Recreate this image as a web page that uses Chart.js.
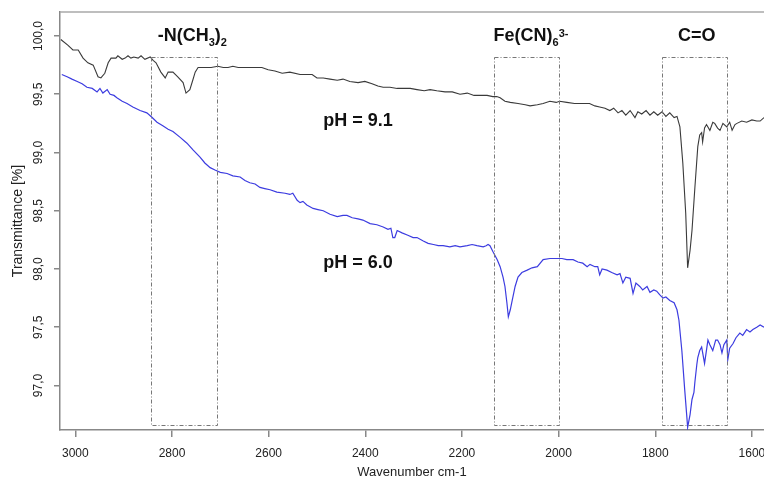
<!DOCTYPE html>
<html>
<head>
<meta charset="utf-8">
<title>IR spectra</title>
<script src="https://cdn.jsdelivr.net/npm/chart.js@4.4.1/dist/chart.umd.min.js"></script>
<style>
  html, body { margin: 0; padding: 0; background: #fff; overflow: hidden; }
  canvas { display: block; }
</style>
</head>
<body>
<canvas id="spectra" width="764" height="478"></canvas>
<script>
// pH 9.1 spectrum: wavenumber (cm-1) and transmittance (%)
const wnPH91 = [3030,3015,3005,2994,2984,2974,2963,2953,2947,2939,2932,2926,2916,2912,2903,2897,2891,2885,2879,2870,2864,2856,2845,2839,2833,2823,2814,2808,2798,2788,2777,2771,2763,2757,2752,2746,2740,2730,2719,2705,2694,2684,2674,2663,2653,2643,2626,2614,2601,2587,2572,2556,2535,2523,2510,2500,2487,2473,2458,2446,2432,2415,2401,2386,2374,2363,2349,2334,2322,2307,2293,2278,2266,2252,2235,2220,2204,2189,2175,2163,2148,2136,2128,2121,2111,2100,2084,2069,2059,2044,2032,2018,2005,1998,1983,1967,1950,1936,1925,1915,1904,1894,1886,1877,1869,1861,1852,1842,1836,1828,1819,1811,1803,1795,1786,1778,1770,1761,1755,1749,1743,1737,1733,1728,1724,1718,1712,1708,1704,1702,1698,1694,1687,1681,1677,1671,1666,1660,1652,1646,1641,1635,1631,1621,1611,1600,1590,1583,1575];
const tPH91 = [99.97,99.92,99.88,99.88,99.81,99.77,99.75,99.65,99.64,99.68,99.77,99.81,99.81,99.83,99.80,99.81,99.83,99.81,99.82,99.81,99.83,99.80,99.82,99.79,99.77,99.69,99.64,99.69,99.69,99.65,99.60,99.51,99.54,99.62,99.69,99.73,99.73,99.73,99.73,99.74,99.73,99.73,99.74,99.73,99.73,99.73,99.73,99.73,99.71,99.70,99.68,99.69,99.67,99.67,99.67,99.64,99.64,99.63,99.62,99.63,99.61,99.60,99.61,99.59,99.57,99.56,99.56,99.55,99.55,99.55,99.54,99.53,99.54,99.53,99.52,99.52,99.50,99.51,99.49,99.49,99.49,99.48,99.48,99.47,99.44,99.43,99.42,99.41,99.40,99.41,99.42,99.44,99.43,99.44,99.43,99.42,99.42,99.42,99.40,99.39,99.38,99.36,99.38,99.34,99.36,99.32,99.36,99.30,99.35,99.33,99.36,99.32,99.35,99.32,99.35,99.31,99.34,99.30,99.31,99.22,98.91,98.48,98.01,98.16,98.33,98.70,99.05,99.15,99.17,99.09,99.21,99.24,99.19,99.26,99.25,99.21,99.19,99.25,99.22,99.26,99.19,99.24,99.25,99.27,99.26,99.28,99.27,99.27,99.30];

// pH 6.0 spectrum
const wnPH60 = [3028,3017,3007,2996,2986,2976,2965,2955,2949,2943,2934,2928,2920,2914,2903,2893,2881,2866,2852,2841,2831,2819,2808,2798,2783,2769,2756,2742,2732,2721,2711,2700,2686,2674,2659,2649,2639,2628,2618,2608,2597,2583,2566,2556,2550,2541,2535,2529,2521,2508,2498,2487,2473,2458,2446,2438,2427,2415,2405,2390,2376,2363,2353,2347,2343,2339,2334,2324,2312,2301,2293,2280,2270,2259,2249,2239,2225,2214,2204,2189,2179,2169,2156,2150,2146,2142,2136,2127,2121,2115,2111,2107,2104,2100,2096,2090,2084,2076,2065,2055,2044,2032,2018,2003,1993,1983,1970,1960,1950,1941,1935,1925,1919,1915,1910,1900,1890,1879,1873,1867,1861,1852,1846,1840,1832,1826,1817,1811,1803,1797,1791,1784,1778,1770,1761,1755,1751,1745,1739,1735,1733,1728,1724,1720,1718,1714,1712,1708,1704,1698,1691,1687,1681,1675,1671,1666,1662,1658,1652,1650,1646,1639,1633,1625,1619,1611,1604,1598,1590,1583,1575];
const tPH60 = [99.67,99.65,99.63,99.61,99.59,99.56,99.55,99.52,99.55,99.51,99.54,99.50,99.49,99.47,99.44,99.42,99.39,99.36,99.34,99.30,99.26,99.23,99.20,99.18,99.13,99.08,99.02,98.96,98.91,98.87,98.85,98.83,98.82,98.80,98.79,98.76,98.74,98.73,98.70,98.69,98.68,98.66,98.65,98.64,98.65,98.59,98.57,98.58,98.55,98.52,98.51,98.50,98.47,98.45,98.46,98.46,98.44,98.43,98.42,98.39,98.38,98.36,98.34,98.35,98.27,98.27,98.33,98.31,98.29,98.27,98.27,98.24,98.22,98.21,98.20,98.20,98.19,98.20,98.19,98.20,98.21,98.20,98.19,98.20,98.21,98.20,98.15,98.08,98.02,97.93,97.85,97.71,97.59,97.65,97.73,97.85,97.93,97.97,97.99,98.01,98.02,98.08,98.09,98.09,98.09,98.08,98.08,98.06,98.05,98.02,98.04,98.02,98.02,97.95,98.00,97.99,97.97,97.95,97.96,97.88,97.93,97.92,97.79,97.88,97.85,97.82,97.85,97.80,97.82,97.81,97.78,97.75,97.76,97.73,97.71,97.65,97.56,97.30,96.96,96.75,96.64,96.75,96.88,96.94,97.03,97.18,97.24,97.30,97.33,97.19,97.39,97.35,97.30,97.39,97.39,97.35,97.28,97.35,97.39,97.22,97.32,97.36,97.41,97.45,97.43,97.48,97.46,97.48,97.50,97.52,97.50];

// Axis ticks
const xTickValues = [3000, 2800, 2600, 2400, 2200, 2000, 1800, 1600];
const yTickValues = [97.0, 97.5, 98.0, 98.5, 99.0, 99.5, 100.0];

// Marked absorption bands (wavenumber ranges) and their labels
const bandFrom = [2843, 2133, 1786];
const bandTo = [2707, 2000, 1652];
const bandLabels = [
  [['-N(CH', ''], ['3', 'sub'], [')', ''], ['2', 'sub']],
  [['Fe(CN)', ''], ['6', 'sub'], ['3-', 'sup']],
  [['C=O', '']]
];
const seriesLabels = ['pH = 9.1', 'pH = 6.0'];

const FONT = '"Liberation Sans", Arial, sans-serif';

function toPoints(xs, ys) {
  return xs.map((x, i) => ({ x: x, y: ys[i] }));
}

function drawRich(ctx, parts, cx, baseY, size) {
  const small = Math.round(size * 0.62);
  const widths = [];
  let total = 0;
  parts.forEach(([t, k]) => {
    ctx.font = 'bold ' + (k ? small : size) + 'px ' + FONT;
    const w = ctx.measureText(t).width;
    widths.push(w);
    total += w;
  });
  let x = cx - total / 2;
  parts.forEach(([t, k], i) => {
    ctx.font = 'bold ' + (k ? small : size) + 'px ' + FONT;
    const dy = k === 'sub' ? 5 : (k === 'sup' ? -4 : 0);
    ctx.fillText(t, x, baseY + dy);
    x += widths[i];
  });
}

const decorations = {
  id: 'decorations',
  afterDatasetsDraw(chart) {
    const { ctx, chartArea, scales } = chart;
    const xs = scales.x, ys = scales.y;
    ctx.save();

    // top frame line
    ctx.strokeStyle = '#a8a8a8';
    ctx.lineWidth = 1.5;
    ctx.beginPath();
    ctx.moveTo(chartArea.left, chartArea.top);
    ctx.lineTo(chart.width, chartArea.top);
    ctx.stroke();

    // dash-dot boxes around the bands
    ctx.strokeStyle = '#777';
    ctx.lineWidth = 1;
    ctx.setLineDash([4, 2, 1, 2]);
    const yTop = ys.getPixelForValue(99.82);
    const yBot = ys.getPixelForValue(96.66);
    bandFrom.forEach((f, i) => {
      const x1 = Math.round(xs.getPixelForValue(f)) + 0.5;
      const x2 = Math.round(xs.getPixelForValue(bandTo[i])) + 0.5;
      ctx.strokeRect(x1, Math.round(yTop) + 0.5, x2 - x1, Math.round(yBot) - Math.round(yTop));
    });
    ctx.setLineDash([]);

    // band labels
    ctx.fillStyle = '#111';
    ctx.textBaseline = 'alphabetic';
    ctx.textAlign = 'left';
    const labelY = ys.getPixelForValue(99.957);
    drawRich(ctx, bandLabels[0], xs.getPixelForValue(2758), labelY, 18);
    drawRich(ctx, bandLabels[1], xs.getPixelForValue(2057), labelY, 18);
    drawRich(ctx, bandLabels[2], xs.getPixelForValue(1714), labelY, 18);

    // series labels
    drawRich(ctx, [[seriesLabels[0], '']], xs.getPixelForValue(2415), ys.getPixelForValue(99.227), 18);
    drawRich(ctx, [[seriesLabels[1], '']], xs.getPixelForValue(2415), ys.getPixelForValue(98.009), 18);

    // rotated y tick labels
    ctx.font = '12px ' + FONT;
    ctx.fillStyle = '#222';
    ctx.textAlign = 'center';
    ctx.textBaseline = 'middle';
    yTickValues.forEach(v => {
      const py = ys.getPixelForValue(v);
      ctx.save();
      ctx.translate(39, py);
      ctx.rotate(-Math.PI / 2);
      ctx.fillText(v.toFixed(1).replace('.', ','), 0, 0);
      ctx.restore();
    });
    ctx.restore();
  }
};

new Chart(document.getElementById('spectra'), {
  type: 'line',
  data: {
    datasets: [
      {
        label: seriesLabels[0],
        data: toPoints(wnPH91, tPH91),
        borderColor: '#3a3a3a',
        borderWidth: 1.1,
        pointRadius: 0,
        tension: 0,
        fill: false
      },
      {
        label: seriesLabels[1],
        data: toPoints(wnPH60, tPH60),
        borderColor: '#3c3ce0',
        borderWidth: 1.2,
        pointRadius: 0,
        tension: 0,
        fill: false
      }
    ]
  },
  options: {
    responsive: false,
    animation: false,
    devicePixelRatio: 1,
    layout: { padding: { top: 12, right: 0, left: 0, bottom: 0 } },
    plugins: { legend: { display: false }, tooltip: { enabled: false } },
    scales: {
      x: {
        type: 'linear',
        reverse: true,
        min: 1575,
        max: 3031.7,
        afterBuildTicks: s => { s.ticks = xTickValues.map(v => ({ value: v })); },
        afterFit: s => { s.height = 48; s.paddingLeft = 0; s.paddingRight = 0; },
        ticks: {
          font: { size: 12, family: FONT },
          color: '#222',
          padding: 9,
          maxRotation: 0,
          autoSkip: false,
          callback: v => String(v)
        },
        grid: { drawOnChartArea: false, drawTicks: true, tickLength: 7, color: '#888', lineWidth: 1.5 },
        border: { display: true, color: '#888', width: 1.5 },
        title: {
          display: true,
          text: 'Wavenumber cm-1',
          font: { size: 13, family: FONT },
          color: '#222',
          padding: { top: 0, bottom: -2 }
        }
      },
      y: {
        type: 'linear',
        min: 96.618,
        max: 100.206,
        afterBuildTicks: s => { s.ticks = yTickValues.map(v => ({ value: v })); },
        afterFit: s => { s.width = 60; s.paddingTop = 0; s.paddingBottom = 0; },
        ticks: { display: false },
        grid: { drawOnChartArea: false, drawTicks: true, tickLength: 6, color: '#888', lineWidth: 1.5 },
        border: { display: true, color: '#888', width: 1.5 },
        title: {
          display: true,
          text: 'Transmittance [%]',
          font: { size: 14, family: FONT },
          color: '#222',
          padding: { top: 10, bottom: 0 }
        }
      }
    }
  },
  plugins: [decorations]
});
</script>
</body>
</html>
